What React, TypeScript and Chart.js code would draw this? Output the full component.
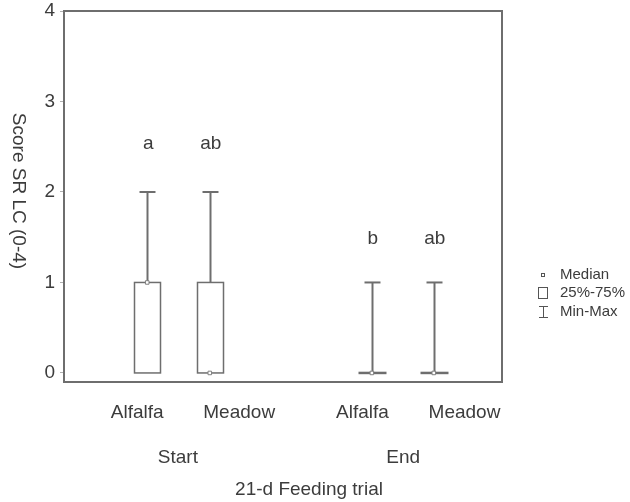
import React, { useEffect, useRef } from "react";
import { Chart, registerables } from "chart.js";

Chart.register(...registerables);

// ---- data ----
const categories = ["Alfalfa", "Meadow", "Alfalfa", "Meadow"];
const groups = ["Start", "End"];
const boxPositions = [1.33, 2.33, 4.92, 5.91];
const labelPositions = [1.17, 2.8, 4.77, 6.4];
const groupPositions = [1.82, 5.42];
const minValues = [0, 0, 0, 0];
const q1Values = [0, 0, 0, 0];
const medianValues = [1, 0, 0, 0];
const q3Values = [1, 1, 0, 0];
const maxValues = [2, 2, 1, 1];
const letters = ["a", "ab", "b", "ab"];
const letterValues = [2.53, 2.53, 1.48, 1.48];
const yTicks = [0, 1, 2, 3, 4];
const legendItems = ["Median", "25%-75%", "Min-Max"];
const xTitle = "21-d Feeding trial";
const yTitle = "Score SR LC (0-4)";

const FONT = "'Liberation Sans', Arial, sans-serif";
const TEXT = "#3c3c3c";
const LINE = "#6e6e6e";

const boxPlugin = {
  id: "boxPlugin",
  beforeDatasetsDraw(chart: any) {
    const { ctx, scales } = chart;
    const xs = scales.x;
    const ys = scales.y;
    ctx.save();
    ctx.strokeStyle = LINE;
    const halfBox = 13;
    const halfCap = 8;
    boxPositions.forEach((p, i) => {
      const cx = Math.round(xs.getPixelForValue(p)) + 0.5;
      const yMax = ys.getPixelForValue(maxValues[i]);
      const yMin = ys.getPixelForValue(minValues[i]);
      const yQ1 = ys.getPixelForValue(q1Values[i]);
      const yQ3 = ys.getPixelForValue(q3Values[i]);
      ctx.lineWidth = 2;
      ctx.beginPath();
      ctx.moveTo(cx, yMax);
      ctx.lineTo(cx, yQ3);
      ctx.moveTo(cx, yQ1);
      ctx.lineTo(cx, yMin);
      ctx.stroke();
      ctx.beginPath();
      ctx.moveTo(cx - halfCap, yMax);
      ctx.lineTo(cx + halfCap, yMax);
      if (minValues[i] !== q1Values[i]) {
        ctx.moveTo(cx - halfCap, yMin);
        ctx.lineTo(cx + halfCap, yMin);
      }
      ctx.stroke();
      if (q3Values[i] === q1Values[i]) {
        ctx.lineWidth = 2.5;
        ctx.beginPath();
        ctx.moveTo(cx - halfBox - 1, yQ1);
        ctx.lineTo(cx + halfBox + 1, yQ1);
        ctx.stroke();
      } else {
        ctx.lineWidth = 1.5;
        ctx.fillStyle = "#ffffff";
        ctx.fillRect(cx - halfBox, yQ3, halfBox * 2, yQ1 - yQ3);
        ctx.strokeRect(cx - halfBox, yQ3, halfBox * 2, yQ1 - yQ3);
      }
    });
    ctx.restore();
  },
  afterDraw(chart: any) {
    const { ctx, scales, chartArea } = chart;
    const xs = scales.x;
    const ys = scales.y;
    ctx.save();
    ctx.strokeStyle = LINE;
    ctx.lineWidth = 2;
    ctx.strokeRect(chartArea.left, chartArea.top, chartArea.right - chartArea.left, chartArea.bottom - chartArea.top);

    ctx.fillStyle = TEXT;
    ctx.textAlign = "center";
    ctx.textBaseline = "middle";
    ctx.font = `19px ${FONT}`;
    letters.forEach((l, i) => {
      ctx.fillText(l, xs.getPixelForValue(boxPositions[i]) + 1, ys.getPixelForValue(letterValues[i]));
    });
    categories.forEach((c, i) => {
      ctx.fillText(c, xs.getPixelForValue(labelPositions[i]), 413);
    });
    groups.forEach((g, i) => {
      ctx.fillText(g, xs.getPixelForValue(groupPositions[i]), 458);
    });
    ctx.fillText(xTitle, 309, 490);
    ctx.save();
    ctx.translate(18, 191);
    ctx.rotate(Math.PI / 2);
    ctx.fillText(yTitle, 0, 0);
    ctx.restore();

    const lx = 543;
    const ly = [275, 293, 312];
    ctx.font = `15px ${FONT}`;
    ctx.textAlign = "left";
    legendItems.forEach((t, i) => ctx.fillText(t, 560, ly[i]));
    ctx.strokeStyle = "#555";
    ctx.lineWidth = 1;
    ctx.strokeRect(lx - 1.5, ly[0] - 1.5, 3, 3);
    ctx.strokeRect(lx - 4.5, ly[1] - 5.5, 9, 11);
    ctx.beginPath();
    ctx.moveTo(lx + 0.5, ly[2] - 5);
    ctx.lineTo(lx + 0.5, ly[2] + 5);
    ctx.moveTo(lx - 4, ly[2] - 5.5);
    ctx.lineTo(lx + 5, ly[2] - 5.5);
    ctx.moveTo(lx - 4, ly[2] + 5.5);
    ctx.lineTo(lx + 5, ly[2] + 5.5);
    ctx.stroke();
    ctx.restore();
  },
};

function BoxChart() {
  const ref = useRef<HTMLCanvasElement | null>(null);
  useEffect(() => {
    if (!ref.current) return;
    const chart = new Chart(ref.current, {
      type: "scatter",
      data: {
        datasets: [
          {
            label: "Median",
            data: boxPositions.map((p, i) => ({ x: p, y: medianValues[i] })),
            pointStyle: "rect",
            pointRadius: 2.5,
            pointBackgroundColor: "#ffffff",
            pointBorderColor: "#808080",
            pointBorderWidth: 1,
          },
        ],
      },
      options: {
        animation: false,
        responsive: false,
        devicePixelRatio: 1,
        layout: { padding: { left: 0, top: 11, right: 128, bottom: 120 } },
        plugins: { legend: { display: false }, tooltip: { enabled: false } },
        scales: {
          x: { type: "linear", min: 0, max: 7, display: false },
          y: {
            type: "linear",
            min: -0.1,
            max: 4,
            afterBuildTicks: (scale: any) => {
              scale.ticks = yTicks.map((v) => ({ value: v }));
            },
            afterFit: (scale: any) => {
              scale.width = 64;
              scale.paddingTop = 0;
              scale.paddingBottom = 0;
            },
            border: { display: false },
            grid: { drawOnChartArea: false, drawTicks: true, tickLength: 4, color: "#b0b0b0" },
            ticks: { padding: 5, color: TEXT, font: { family: FONT, size: 19 } },
          },
        },
      },
      plugins: [boxPlugin],
    });
    return () => chart.destroy();
  }, []);
  return <canvas ref={ref} width={630} height={502} style={{ width: 630, height: 502, display: "block" }} />;
}

export default function App() {
  return (
    <div style={{ position: "fixed", left: 0, top: 0, width: 630, height: 502, background: "#fff" }}>
      <BoxChart />
    </div>
  );
}
